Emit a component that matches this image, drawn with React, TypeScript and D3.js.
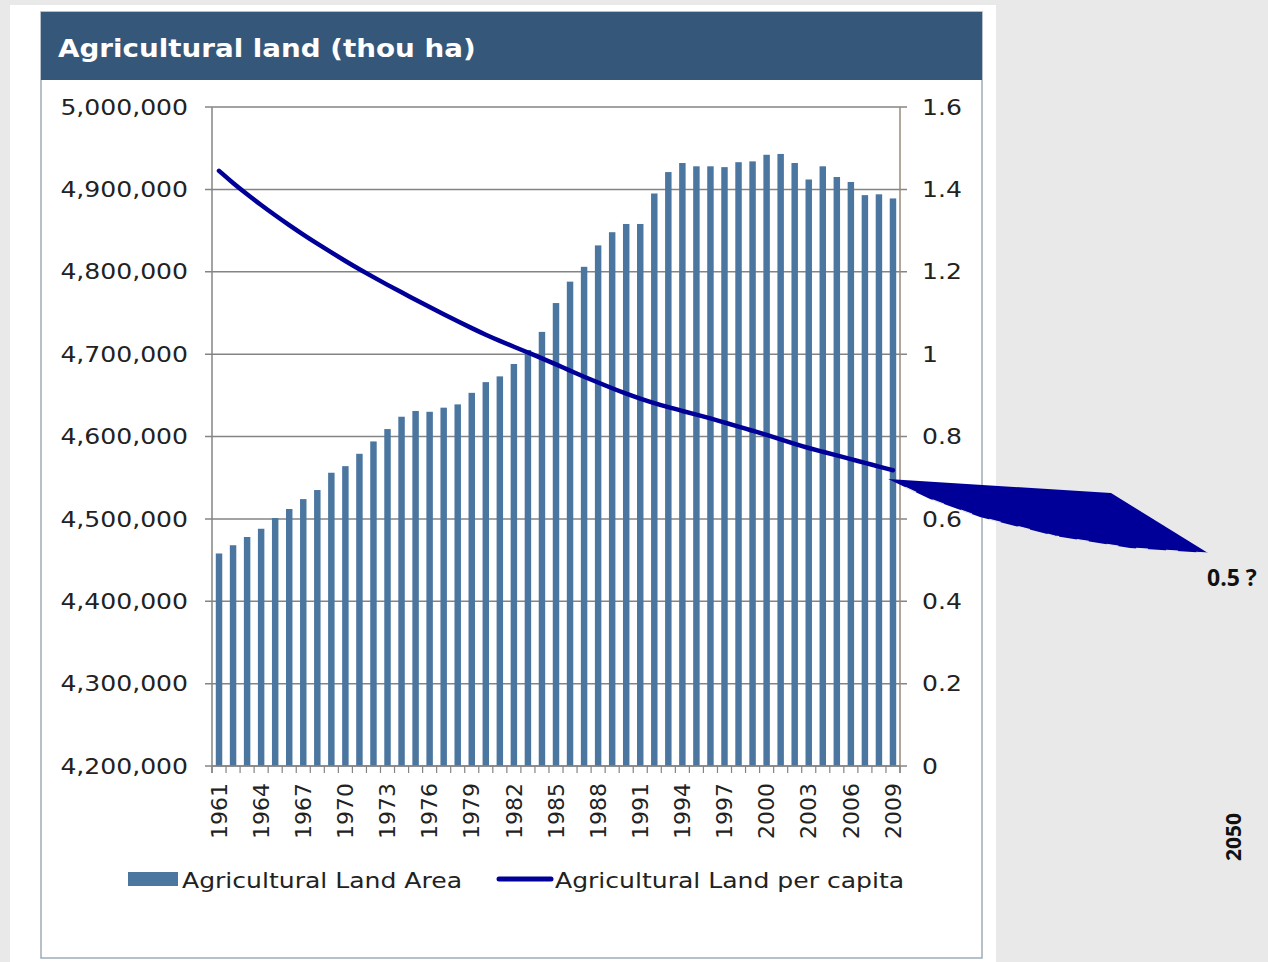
import React from "react";
import * as d3 from "d3";

const years: number[] = d3.range(1961, 2010);

const landArea: number[] = [
  4458000, 4468000, 4478000, 4488000, 4501000, 4512000, 4524000, 4535000, 4556000, 4564000,
  4579000, 4594000, 4609000, 4624000, 4631000, 4630000, 4635000, 4639000, 4653000, 4666000,
  4673000, 4688000, 4705000, 4727000, 4762000, 4788000, 4806000, 4832000, 4848000, 4858000,
  4858000, 4895000, 4921000, 4932000, 4928000, 4928000, 4927000, 4933000, 4934000, 4942000,
  4943000, 4932000, 4912000, 4928000, 4915000, 4909000, 4893000, 4894000, 4889000,
];

const perCapita: number[] = [
  1.445, 1.415, 1.388, 1.362, 1.337, 1.313, 1.29, 1.268, 1.247, 1.226,
  1.206, 1.187, 1.168, 1.15, 1.132, 1.114, 1.097, 1.08, 1.063, 1.047,
  1.032, 1.018, 1.004, 0.99, 0.975, 0.96, 0.945, 0.931, 0.917, 0.904,
  0.892, 0.881, 0.871, 0.862, 0.853, 0.844, 0.834, 0.824, 0.814, 0.804,
  0.793, 0.782, 0.772, 0.763, 0.754, 0.745, 0.736, 0.727, 0.718,
];

const leftTicks: number[] = d3.range(4200000, 5000001, 100000);
const rightTicks: number[] = [0, 0.2, 0.4, 0.6, 0.8, 1, 1.2, 1.4, 1.6];
const labelYears: number[] = years.filter((y) => (y - 1961) % 3 === 0);

const TITLE = "Agricultural land (thou ha)";
const LEGEND_BAR = "Agricultural Land Area";
const LEGEND_LINE = "Agricultural Land per capita";
const ANNOT_VALUE = "0.5 ?";
const ANNOT_YEAR = "2050";

const W = 1268;
const H = 962;
const PL = 212;
const PR = 900;
const PT = 107;
const PB = 766;
const SX = 1.14;
const FONT = "'DejaVu Sans', Verdana, sans-serif";

export default function App() {
  const x = d3
    .scaleBand<number>()
    .domain(years)
    .range([PL, PR])
    .paddingInner(0.54)
    .paddingOuter(0.27);
  const yL = d3.scaleLinear().domain([4200000, 5000000]).range([PB, PT]);
  const yR = d3.scaleLinear().domain([0, 1.6]).range([PB, PT]);
  const cx = (yr: number) => (x(yr) as number) + x.bandwidth() / 2;
  const gap = (x.step() - x.bandwidth()) / 2;
  const boundaries = years.map((yr) => (x(yr) as number) - gap).concat([PR]);

  const line = d3
    .line<number>()
    .x((_, i) => cx(years[i]))
    .y((d) => yR(d))
    .curve(d3.curveBasis);

  const fmtL = d3.format(",");
  const fmtR = (v: number) => String(+v.toFixed(1));

  const arrowPts: [number, number][] = [
    [888, 479],
    [1111, 493],
    [1208, 553],
    [1130, 548],
    [1055, 536],
    [980, 517],
    [930, 499],
  ];
  const lowerEdge: [number, number][] = [
    [1208, 553],
    [1130, 548],
    [1055, 536],
    [980, 517],
    [930, 499],
    [888, 479],
  ];

  return (
    <svg
      width={W}
      height={H}
      style={{ position: "absolute", left: 0, top: 0, display: "block" }}
      fontFamily={FONT}
    >
      <rect x={0} y={0} width={W} height={H} fill="#e9e9e9" />
      <rect x={10} y={5} width={986} height={H - 5} fill="#ffffff" />
      {/* panel border */}
      <rect x={41} y={12} width={941} height={946} fill="#ffffff" stroke="#9eacb8" strokeWidth={1.5} />
      {/* title bar */}
      <rect x={41} y={12} width={941} height={68} fill="#35587a" />
      <g transform={`translate(58,57) scale(1.11,1)`}>
        <text fill="#ffffff" fontSize={25} fontWeight="bold">
          {TITLE}
        </text>
      </g>

      {/* gridlines */}
      {leftTicks.map((t) => (
        <line key={"g" + t} x1={PL - 7} x2={PR + 7} y1={yL(t)} y2={yL(t)} stroke="#848484" strokeWidth={1.5} />
      ))}
      {/* left axis */}
      <line x1={PL} x2={PL} y1={PT} y2={PB + 7} stroke="#848484" strokeWidth={1.5} />
      {leftTicks.map((t) => (
        <g key={"l" + t} transform={`translate(188,${yL(t)}) scale(${SX},1)`}>
          <text textAnchor="end" dy="0.35em" fontSize={22} fill="#222">
            {fmtL(t)}
          </text>
        </g>
      ))}
      {/* right axis */}
      <line x1={PR} x2={PR} y1={PT} y2={PB + 7} stroke="#9a8878" strokeWidth={1.5} />
      {rightTicks.map((t) => (
        <g key={"r" + t} transform={`translate(922,${yR(t)}) scale(${SX},1)`}>
          <text textAnchor="start" dy="0.35em" fontSize={22} fill="#222">
            {fmtR(t)}
          </text>
        </g>
      ))}

      {/* bars */}
      {landArea.map((v, i) => (
        <rect
          key={"b" + i}
          x={x(years[i]) as number}
          y={yL(v)}
          width={x.bandwidth()}
          height={PB - yL(v)}
          fill="#4a76a0"
        />
      ))}

      {/* x axis */}
      <line x1={PL} x2={PR} y1={PB} y2={PB} stroke="#848484" strokeWidth={1.5} />
      {boundaries.map((b, i) => (
        <line key={"t" + i} x1={b} x2={b} y1={PB} y2={PB + 7} stroke="#848484" strokeWidth={1.2} />
      ))}
      {labelYears.map((yr) => (
        <text
          key={"x" + yr}
          transform={`translate(${cx(yr)},783) rotate(-90)`}
          textAnchor="end"
          dy="0.35em"
          fontSize={22}
          fill="#222"
        >
          {yr}
        </text>
      ))}

      {/* per-capita line */}
      <path d={line(perCapita) || ""} fill="none" stroke="#000099" strokeWidth={4.5} strokeLinejoin="round" strokeLinecap="round" />

      {/* legend */}
      <rect x={128} y={872} width={50} height={14} fill="#4a76a0" />
      <g transform={`translate(182,888) scale(${SX},1)`}>
        <text fontSize={22} fill="#222">{LEGEND_BAR}</text>
      </g>
      <line x1={499} x2={551} y1={879} y2={879} stroke="#000099" strokeWidth={5} strokeLinecap="round" />
      <g transform={`translate(555,888) scale(${SX},1)`}>
        <text fontSize={22} fill="#222">{LEGEND_LINE}</text>
      </g>

      {/* annotation arrow */}
      <polygon points={arrowPts.map((p) => p.join(",")).join(" ")} fill="#000099" />
      <polyline
        points={lowerEdge.map((p) => p.join(",")).join(" ")}
        fill="none"
        stroke="#e4e4ec"
        strokeWidth={1.2}
        strokeDasharray="12 18"
      />
      <text x={1207} y={586} fontSize={23} fontWeight="bold" fontFamily="'Open Sans', sans-serif" fill="#111">
        {ANNOT_VALUE}
      </text>
      <text
        transform="translate(1241,861) rotate(-90)"
        fontSize={21}
        fontWeight="bold"
        fontFamily="'Open Sans', sans-serif"
        fill="#111"
      >
        {ANNOT_YEAR}
      </text>
    </svg>
  );
}
